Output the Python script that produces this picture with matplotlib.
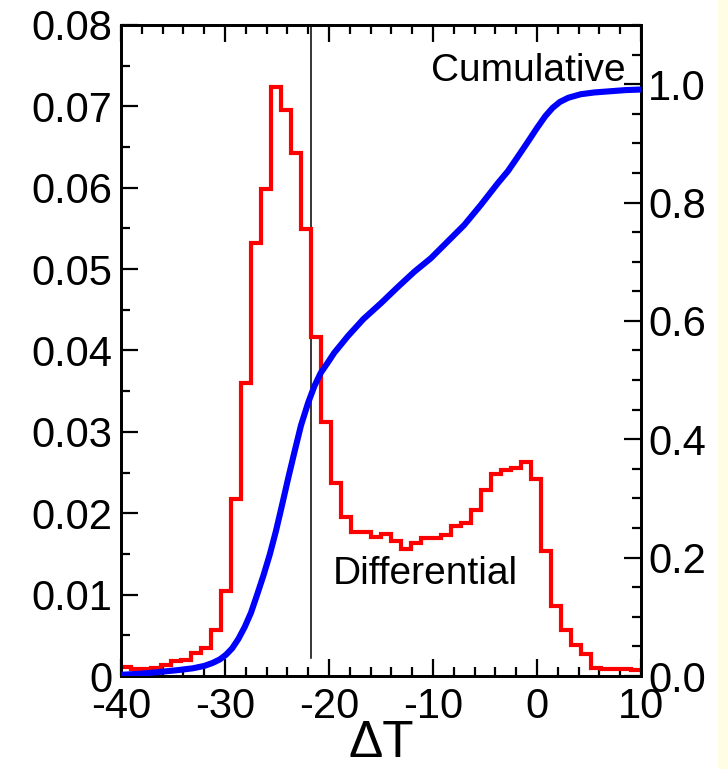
import numpy as np
import matplotlib
matplotlib.use("Agg")
import matplotlib.pyplot as plt
from matplotlib.patches import Rectangle
from matplotlib.ticker import MultipleLocator, FixedLocator, FixedFormatter

plt.rcParams['font.family'] = ['Liberation Sans', 'DejaVu Sans']
plt.rcParams['axes.unicode_minus'] = False

# ---- data ----
x_min, x_max = -40, 10
n_bins = 52
bin_edges = np.linspace(x_min, x_max, n_bins + 1)
differential = [
    0.0011, 0.0008, 0.0009, 0.0010, 0.0013, 0.0018, 0.0020, 0.0028, 0.0035, 0.0057,
    0.0104, 0.0217, 0.0360, 0.0532, 0.0598, 0.0724, 0.0695, 0.0643, 0.0549, 0.0416,
    0.0312, 0.0237, 0.0196, 0.0177, 0.0177, 0.0171, 0.0174, 0.0166, 0.0156, 0.0163,
    0.0170, 0.0170, 0.0173, 0.0184, 0.0188, 0.0204, 0.0229, 0.0248, 0.0253, 0.0256,
    0.0263, 0.0242, 0.0153, 0.0086, 0.0056, 0.0038, 0.0027, 0.0010, 0.0009, 0.0009,
    0.0008, 0.0007,
]

cum_x = [-40.0, -38.0, -36.2, -34.5, -33.1, -32.0, -31.2, -30.5, -29.9, -29.3,
         -28.7, -28.1, -27.5, -26.9, -26.3, -25.7, -25.1, -24.5, -23.9, -23.3,
         -22.7, -22.0, -21.4, -20.8, -20.1, -19.5, -18.8, -18.2, -16.7, -15.0,
         -13.4, -11.8, -10.2, -8.6, -7.0, -5.4, -3.8, -2.8, -1.9, -0.9,
         0.0, 0.8, 1.5, 2.2, 3.0, 4.2, 5.5, 7.0, 8.5, 10.0]
cum_y = [0.002, 0.004, 0.007, 0.010, 0.013, 0.017, 0.022, 0.028, 0.036, 0.047,
         0.063, 0.083, 0.107, 0.138, 0.170, 0.205, 0.245, 0.290, 0.336, 0.380,
         0.423, 0.462, 0.490, 0.512, 0.530, 0.546, 0.561, 0.574, 0.603, 0.630,
         0.657, 0.683, 0.706, 0.734, 0.762, 0.796, 0.832, 0.853, 0.876, 0.902,
         0.926, 0.946, 0.960, 0.970, 0.977, 0.983, 0.986, 0.988, 0.990, 0.991]

vline_x = -21.75
vline_y = [0.0022, 0.08]

left_ticks = [0, 0.01, 0.02, 0.03, 0.04, 0.05, 0.06, 0.07, 0.08]
left_labels = ['0', '0.01', '0.02', '0.03', '0.04', '0.05', '0.06', '0.07', '0.08']
right_ticks = [0.0, 0.2, 0.4, 0.6, 0.8, 1.0]
right_labels = ['0.0', '0.2', '0.4', '0.6', '0.8', '1.0']
x_ticks = [-40, -30, -20, -10, 0, 10]
x_labels = ['-40', '-30', '-20', '-10', '0', '10']

# ---- figure ----
fig = plt.figure(figsize=(7.28, 7.69), dpi=100)
fig.patches.append(Rectangle((718 / 728, 0), 10 / 728, 1, transform=fig.transFigure,
                             facecolor='#fffde3', edgecolor='none', zorder=-10))

ax = fig.add_axes([121 / 728, 1 - 676 / 769, 520 / 728, 651 / 769])
ax.stairs(differential, bin_edges, baseline=None, color='#ff0000', linewidth=3.0, zorder=2)
ax.plot([vline_x, vline_x], vline_y, color='black', linewidth=1.1, zorder=1)

ax.set_xlim(x_min, x_max)
ax.set_ylim(0, 0.08)
ax.xaxis.set_major_locator(FixedLocator(x_ticks))
ax.xaxis.set_major_formatter(FixedFormatter(x_labels))
ax.xaxis.set_minor_locator(MultipleLocator(2))
ax.yaxis.set_major_locator(FixedLocator(left_ticks))
ax.yaxis.set_major_formatter(FixedFormatter(left_labels))
ax.yaxis.set_minor_locator(MultipleLocator(0.005))

tick_fs = 30
ax.tick_params(axis='x', which='both', direction='in', top=True, bottom=True,
               labelsize=tick_fs, pad=8)
ax.tick_params(axis='y', which='both', direction='in', left=True, right=False,
               labelsize=tick_fs, pad=6)
ax.tick_params(which='major', length=12, width=1.6)
ax.tick_params(which='minor', length=6.5, width=1.6)
for s in ax.spines.values():
    s.set_linewidth(2.0)

ax.set_xlabel('ΔT', fontsize=37, labelpad=-6)

ax.text(8.55, 0.0731, 'Cumulative', fontsize=28, ha='right', va='baseline')
ax.text(-19.6, 0.0113, 'Differential', fontsize=28, ha='left', va='baseline')

ax2 = ax.twinx()
ax2.plot(cum_x, cum_y, color='#0000ff', linewidth=4.4, solid_capstyle='butt',
         solid_joinstyle='round', zorder=3)
ax2.set_ylim(0, 1.1)
ax2.yaxis.set_major_locator(FixedLocator(right_ticks))
ax2.yaxis.set_major_formatter(FixedFormatter(right_labels))
ax2.yaxis.set_minor_locator(MultipleLocator(0.05))
ax2.tick_params(axis='y', which='both', direction='in', left=False, right=True,
                labelsize=tick_fs, pad=5)
ax2.tick_params(which='major', length=12, width=1.6)
ax2.tick_params(which='minor', length=6.5, width=1.6)
for s in ax2.spines.values():
    s.set_linewidth(2.0)

fig.savefig('out.png', dpi=100)
